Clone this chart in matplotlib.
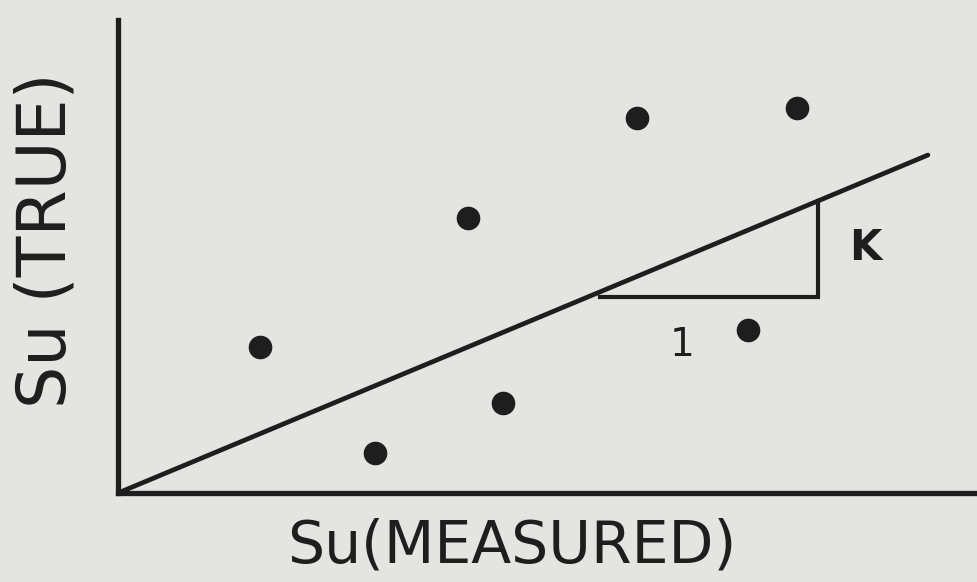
import numpy as np
import matplotlib.pyplot as plt

# --------------------------------------------------------------------------- #
# Data
# --------------------------------------------------------------------------- #
suMeasured = [1.66, 3.00, 4.08, 4.49, 6.06, 7.92, 7.35];
suTrue = [3.09, 0.85, 5.81, 1.90, 7.93, 8.14, 3.45];

slopeK = 0.756;      # fitted line Su(true) = K * Su(measured)
lineEnd = 9.45;
triX = [5.62, 8.17];  # run of the slope triangle

ink = '#1e1e1e';
paper = '#e4e4e1';

# --------------------------------------------------------------------------- #
# Plot
# --------------------------------------------------------------------------- #
fig = plt.figure(figsize=(9.78, 5.82), dpi=100, facecolor=paper);
ax = fig.add_axes([118/978, 89/582, 857/978, 473/582]);
ax.set_facecolor(paper);
ax.set_xlim(0, 10);
ax.set_ylim(0, 10);

for s in ['top', 'right']:
  ax.spines[s].set_visible(False);
for s in ['left', 'bottom']:
  ax.spines[s].set_linewidth(3.8);
  ax.spines[s].set_color(ink);
ax.set_xticks([]);
ax.set_yticks([]);

# fitted line through the origin
xl = np.array([0, lineEnd]);
ax.plot(xl, slopeK*xl, color=ink, lw=3.4, solid_capstyle='round');

# slope triangle
y0 = slopeK*triX[0] - 0.1;
ax.plot([triX[0], triX[1], triX[1]], [y0, y0, slopeK*triX[1]],
        color=ink, lw=3.0, solid_joinstyle='miter');
ax.text(triX[1] + 0.55, 5.18, 'K', fontsize=30, fontweight='bold',
        color=ink, ha='center', va='center');
ax.text(6.58, 3.13, '1', fontsize=28, color=ink, ha='center', va='center');

ax.plot(suMeasured, suTrue, 'o', color=ink, markersize=16, clip_on=False);

fig.text(512/978, 1 - 546/582, 'Su(MEASURED)', fontsize=42, color=ink,
         ha='center', va='center');
fig.text(47/978, 1 - 240/582, 'Su (TRUE)', fontsize=48, color=ink,
         ha='center', va='center', rotation=90);

plt.savefig('out.png', dpi=100, facecolor=paper);
